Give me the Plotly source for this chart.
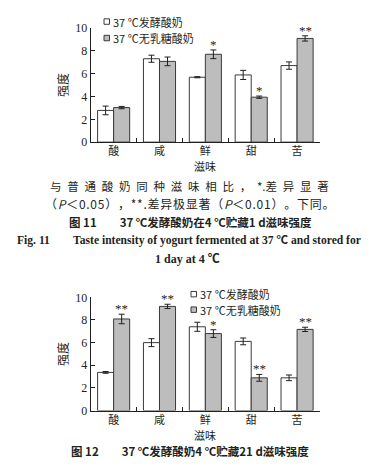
import plotly.graph_objects as go

categories = ["酸", "咸", "鲜", "甜", "苦"]
series_names = ["37 ℃发酵酸奶", "37 ℃无乳糖酸奶"]

# Figure 11 (stored 1 d)
f11_normal = [2.78, 7.31, 5.69, 5.89, 6.71]
f11_normal_err = [0.38, 0.31, 0.05, 0.40, 0.32]
f11_lactosefree = [3.03, 7.08, 7.70, 3.94, 9.09]
f11_lactosefree_err = [0.10, 0.38, 0.38, 0.10, 0.23]
f11_marks = ["", "", "*", "*", "**"]

# Figure 12 (stored 21 d)
f12_normal = [3.37, 6.00, 7.40, 6.11, 2.89]
f12_normal_err = [0.08, 0.35, 0.40, 0.30, 0.25]
f12_lactosefree = [8.09, 9.20, 6.80, 2.89, 7.17]
f12_lactosefree_err = [0.42, 0.19, 0.34, 0.30, 0.19]
f12_marks = ["**", "**", "*", "**", "**"]

yticks = [0, 2, 4, 6, 8, 10]

W, H = 373, 468
SERIF = "Liberation Serif, Noto Sans CJK SC"
CJK = "Noto Sans CJK SC, Liberation Serif"
INK = "#231f20"
BAR_LINE = "#3a3a3a"
GRAY = "#bdbdbd"
FILLS = ["white", GRAY]

fig = go.Figure()

BARGAP = 0.3
bar_w = (1 - BARGAP) / 2


def add_chart(normal, nerr, lf, lferr, marks, xa, ya):
    for name, vals, errs, fill, grp in [
        (series_names[0], normal, nerr, FILLS[0], "a"),
        (series_names[1], lf, lferr, FILLS[1], "b"),
    ]:
        fig.add_trace(go.Bar(
            x=categories, y=vals, name=name, showlegend=False,
            marker=dict(color=fill, line=dict(color=BAR_LINE, width=1)),
            error_y=dict(type="data", array=errs, color=INK, thickness=1, width=3),
            xaxis=xa, yaxis=ya, offsetgroup=grp,
        ))
    for i, m in enumerate(marks):
        if m:
            fig.add_annotation(
                x=i + bar_w / 2, y=lf[i] + lferr[i], xref=xa, yref=ya,
                text=m, showarrow=False, yanchor="bottom", yshift=-4,
                font=dict(family=SERIF, size=13, color=INK),
            )


def add_legend(x_px, rows_px):
    # hand-drawn legend: small square + label for each series
    for name, fill, ry in zip(series_names, FILLS, rows_px):
        fig.add_shape(
            type="rect", xref="paper", yref="paper",
            x0=x_px / W, x1=(x_px + 5.5) / W,
            y0=1 - (ry + 2.8) / H, y1=1 - (ry - 2.8) / H,
            line=dict(color=BAR_LINE, width=1), fillcolor=fill,
        )
        fig.add_annotation(
            x=(x_px + 6.5) / W, y=1 - ry / H, xref="paper", yref="paper",
            text=name, showarrow=False, xanchor="left", yanchor="middle",
            font=dict(family=CJK, size=11, color=INK),
        )


add_chart(f11_normal, f11_normal_err, f11_lactosefree, f11_lactosefree_err,
          f11_marks, "x", "y")
add_chart(f12_normal, f12_normal_err, f12_lactosefree, f12_lactosefree_err,
          f12_marks, "x2", "y2")
add_legend(104, [15, 32])
add_legend(191, [296, 312])

xdom = [90.7 / W, 320 / W]


def ydom(top, bottom):
    return [1 - bottom / H, 1 - top / H]


axis_common = dict(
    showline=True, linecolor=INK, linewidth=1, mirror=False,
    showgrid=False, zeroline=False,
)
xaxis_common = dict(
    axis_common, ticks="inside", ticklen=4, tickcolor=INK, tickson="boundaries",
    tickfont=dict(family=CJK, size=11, color=INK), ticklabelstandoff=-1,
)
yaxis_common = dict(
    axis_common, range=[0, 10], tickvals=yticks, ticks="inside", ticklen=4,
    tickcolor=INK, tickfont=dict(family=SERIF, size=12, color=INK),
    title=dict(text="强度", font=dict(family=CJK, size=12, color=INK), standoff=4),
)

fig.update_layout(
    width=W, height=H, margin=dict(l=0, r=0, t=0, b=0),
    paper_bgcolor="white", plot_bgcolor="white",
    barmode="group", bargap=BARGAP, bargroupgap=0,
    showlegend=False,
    xaxis=dict(xaxis_common, domain=xdom, anchor="y"),
    yaxis=dict(yaxis_common, domain=ydom(21.7, 139.3), anchor="x"),
    xaxis2=dict(xaxis_common, domain=xdom, anchor="y2"),
    yaxis2=dict(yaxis_common, domain=ydom(299.3, 416), anchor="x2"),
)

# x-axis titles ("滋味") placed just under the category labels
for py in (164, 441):
    fig.add_annotation(
        x=(xdom[0] + xdom[1]) / 2, y=1 - py / H, xref="paper", yref="paper",
        text="滋味", showarrow=False, xanchor="center", yanchor="middle",
        font=dict(family=CJK, size=11, color=INK),
    )

SP = "\u2002"
HS = "\u200a"
line1 = SP.join(list("与普通酸奶同种滋味相比，")) + SP + "*." + SP.join(list("差异显著"))
line2 = (HS.join(list("（")) + HS + "<i>P</i>" + HS + HS.join(list("＜0.05），**.差异极显著（"))
         + HS + "<i>P</i>" + HS + HS.join(list("＜0.01）。下同。")))
captions = [
    (line1, 189, 185, CJK, 11.5),
    (line2, 189, 203, CJK, 12),
    ("<b>图 11　　37 ℃发酵酸奶在4 ℃贮藏1 d滋味强度</b>", 190, 222, CJK, 11.5),
    ("<b>Fig. 11　　Taste intensity of yogurt fermented at 37 ℃ and stored for</b>", 189, 241, SERIF, 11.6),
    ("<b>1 day at 4 ℃</b>", 187, 260, SERIF, 12),
    ("<b>图 12　　37 ℃发酵酸奶4 ℃贮藏21 d滋味强度</b>", 190, 458, CJK, 11.5),
]
for text, px, py, fam, size in captions:
    fig.add_annotation(
        x=px / W, y=1 - py / H, xref="paper", yref="paper", text=text,
        showarrow=False, xanchor="center", yanchor="middle",
        font=dict(family=fam, size=size, color=INK),
    )

fig.write_html("out.html")
